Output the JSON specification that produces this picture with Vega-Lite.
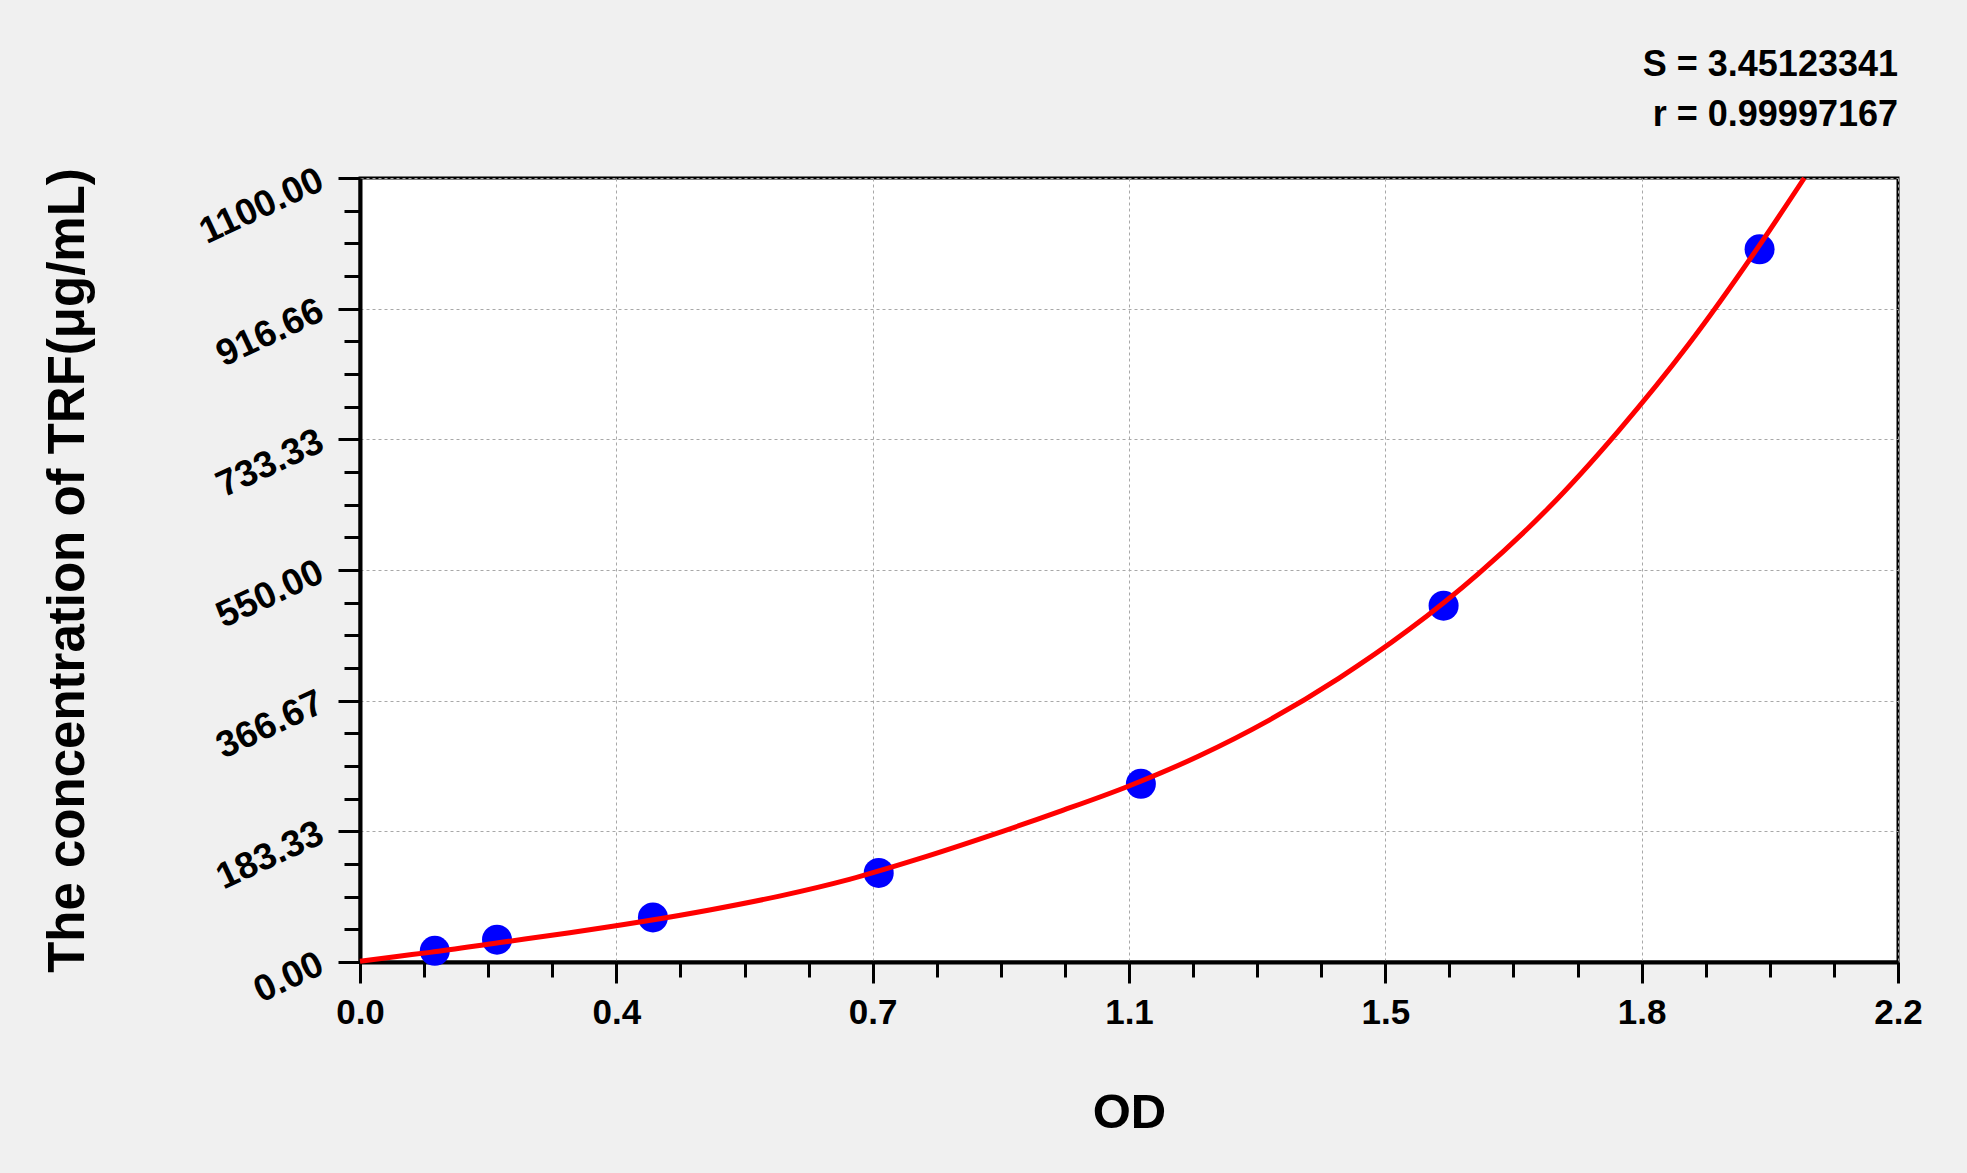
{
  "$schema": "https://vega.github.io/schema/vega-lite/v6.json",
  "width": 1538,
  "height": 784,
  "autosize": {"type": "none"},
  "padding": {"left": 360, "top": 178, "right": 69, "bottom": 211},
  "background": "#f0f0f0",
  "config": {
    "view": {"stroke": "#000000", "strokeWidth": 3, "fill": "#ffffff"},
    "font": "Liberation Sans"
  },
  "title": {
    "text": ["S = 3.45123341", "r = 0.99997167"],
    "anchor": "end",
    "frame": "group",
    "align": "right",
    "font": "Liberation Sans",
    "fontSize": 36,
    "fontWeight": "bold",
    "color": "#000000",
    "lineHeight": 50,
    "offset": 27
  },
  "datasets": {
    "std": [
      {"od": 0.107, "conc": 15.625},
      {"od": 0.196, "conc": 31.25},
      {"od": 0.419, "conc": 62.5},
      {"od": 0.742, "conc": 125},
      {"od": 1.117, "conc": 250},
      {"od": 1.55, "conc": 500},
      {"od": 2.002, "conc": 1000}
    ],
    "fit": [
      {"od": 0.0, "conc": 1},
      {"od": 0.05, "conc": 7.5},
      {"od": 0.1, "conc": 13.5},
      {"od": 0.2, "conc": 27.3},
      {"od": 0.3, "conc": 41},
      {"od": 0.4, "conc": 56},
      {"od": 0.5, "conc": 73},
      {"od": 0.6, "conc": 92.5},
      {"od": 0.7, "conc": 116},
      {"od": 0.8, "conc": 145},
      {"od": 0.9, "conc": 177},
      {"od": 1.0, "conc": 211},
      {"od": 1.1, "conc": 247},
      {"od": 1.2, "conc": 289},
      {"od": 1.3, "conc": 339},
      {"od": 1.4, "conc": 398},
      {"od": 1.5, "conc": 466},
      {"od": 1.6, "conc": 545},
      {"od": 1.7, "conc": 637},
      {"od": 1.8, "conc": 745},
      {"od": 1.9, "conc": 866},
      {"od": 2.0, "conc": 1003},
      {"od": 2.066, "conc": 1100}
    ]
  },
  "layer": [
    {
      "data": {"name": "std"},
      "mark": {"type": "circle", "size": 900, "color": "#0000ff", "opacity": 1},
      "encoding": {
        "x": {
          "field": "od", "type": "quantitative",
          "scale": {"domain": [0, 2.2], "nice": false, "zero": false},
          "axis": {
            "orient": "bottom",
            "title": "OD",
            "titleFont": "Liberation Sans",
            "titleFontSize": 49,
            "titleFontWeight": "bold",
            "titleColor": "#000000",
            "titleY": 150,
            "titleBaseline": "middle",
            "values": [0, 0.366667, 0.733333, 1.1, 1.466667, 1.833333, 2.2],
            "format": ".1f",
            "labelFont": "Liberation Sans",
            "labelFontSize": 35,
            "labelFontWeight": "bold",
            "labelColor": "#000000",
            "labelPadding": 12,
            "labelFlush": false,
            "labelOverlap": false,
            "tickSize": 21,
            "tickWidth": 3,
            "tickColor": "#000000",
            "domain": true,
            "domainColor": "#000000",
            "domainWidth": 4,
            "grid": true,
            "gridColor": "#a8a8a8",
            "gridDash": [3, 3],
            "gridWidth": 1
          }
        },
        "y": {
          "field": "conc", "type": "quantitative",
          "scale": {"domain": [0, 1100], "nice": false},
          "axis": {
            "orient": "left",
            "title": "The concentration of TRF(μg/mL)",
            "titleFont": "Liberation Sans",
            "titleFontSize": 51,
            "titleFontWeight": "bold",
            "titleColor": "#000000",
            "titleX": -292,
            "titleY": 392,
            "titleAngle": -90,
            "titleAlign": "center",
            "titleBaseline": "middle",
            "values": [0, 183.33, 366.67, 550, 733.33, 916.66, 1100],
            "format": ".2f",
            "labelFont": "Liberation Sans",
            "labelFontSize": 37,
            "labelFontWeight": "bold",
            "labelColor": "#000000",
            "labelAngle": -25,
            "labelAlign": "right",
            "labelBaseline": "middle",
            "labelPadding": 17,
            "labelFlush": false,
            "labelOverlap": false,
            "tickSize": 22,
            "tickWidth": 3,
            "tickColor": "#000000",
            "domain": true,
            "domainColor": "#000000",
            "domainWidth": 4,
            "grid": true,
            "gridColor": "#a8a8a8",
            "gridDash": [3, 3],
            "gridWidth": 1
          }
        }
      }
    },
    {
      "data": {"name": "fit"},
      "mark": {"type": "line", "color": "#ff0000", "strokeWidth": 5, "interpolate": "monotone"},
      "encoding": {
        "x": {
          "field": "od", "type": "quantitative",
          "axis": {
            "orient": "bottom",
            "title": null,
            "labels": false,
            "domain": false,
            "grid": false,
            "values": [0.091667, 0.183333, 0.275, 0.458333, 0.55, 0.641667, 0.825, 0.916667, 1.008333, 1.191667, 1.283333, 1.375, 1.558333, 1.65, 1.741667, 1.925, 2.016667, 2.108333],
            "tickSize": 15,
            "tickWidth": 3,
            "tickColor": "#000000"
          }
        },
        "y": {
          "field": "conc", "type": "quantitative",
          "axis": {
            "orient": "left",
            "title": null,
            "labels": false,
            "domain": false,
            "grid": false,
            "values": [45.83, 91.67, 137.5, 229.17, 275, 320.83, 412.5, 458.33, 504.17, 595.83, 641.67, 687.5, 779.17, 825, 870.83, 962.5, 1008.33, 1054.17],
            "tickSize": 16,
            "tickWidth": 3,
            "tickColor": "#000000"
          }
        }
      }
    }
  ],
  "resolve": {"axis": {"x": "independent", "y": "independent"}}
}
